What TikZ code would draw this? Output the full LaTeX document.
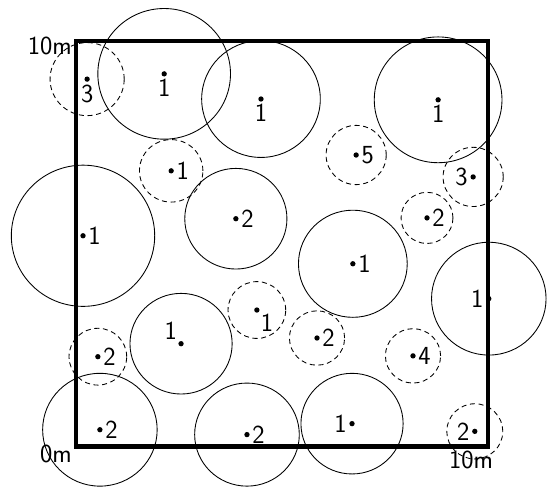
\documentclass[tikz,border=0pt]{standalone}
\usepackage{tikz}
\usetikzlibrary{positioning}

\begin{document}
\begin{tikzpicture}[x=1cm,y=0.985cm,
  dot/.style={circle,fill=black,inner sep=1.3pt},
  crown/.style={line width=0.6pt},
  sapling/.style={crown,dash pattern=on 3.5pt off 2.5pt},
  plotline/.style={line width=3.4pt},
  lab/.style={font=\fontsize{18}{21}\selectfont\sffamily,inner sep=0.5pt}]

\useasboundingbox (-1.845,-1.084) rectangle (11.53,11.01);

%% plot boundary, 10m x 10m
\coordinate (sw) at (0,0);
\coordinate (ne) at (10,10);
\draw[plotline] (sw) rectangle (ne);
\node[lab,anchor=east] (ytop) at (-0.08,9.87) {10m};
\node[lab,anchor=north east] (orig) at (-0.08,0.08) {0m};
\node[lab,anchor=north] (xend) at (9.59,-0.07) {10m};

%% trees: x / y / crown radius / label / label side / style
\foreach \x/\y/\r/\t/\p/\s [count=\i] in {
  0.27/9.06/0.90/3/below/sapling,
  2.14/9.19/1.61/1/below/crown,
  4.49/8.57/1.44/1/below/crown,
  8.79/8.55/1.55/1/below/crown,
  2.31/6.80/0.77/1/right/sapling,
  6.80/7.19/0.73/5/right/sapling,
  9.64/6.65/0.73/3/left/sapling,
  8.52/5.64/0.63/2/right/sapling,
  3.88/5.62/1.24/2/right/crown,
  0.17/5.20/1.74/1/right/crown,
  6.72/4.51/1.32/1/right/crown,
  10.02/3.65/1.39/1/left/crown,
  4.39/3.37/0.70/1/below right/sapling,
  2.55/2.54/1.24/1/above left/crown,
  5.85/2.68/0.67/2/right/sapling,
  8.18/2.24/0.67/4/right/sapling,
  0.53/2.22/0.70/2/right/sapling,
  0.58/0.42/1.39/2/right/crown,
  4.15/0.30/1.27/2/right/crown,
  6.70/0.57/1.24/1/left/crown,
  9.68/0.38/0.68/2/left/sapling}
{
  \draw[\s] (\x,\y) circle[radius=\r];
  \node[dot] (d\i) at (\x,\y) {};
  \node[lab,\p=1pt of d\i] (t\i) {\t};
}
\end{tikzpicture}
\end{document}
